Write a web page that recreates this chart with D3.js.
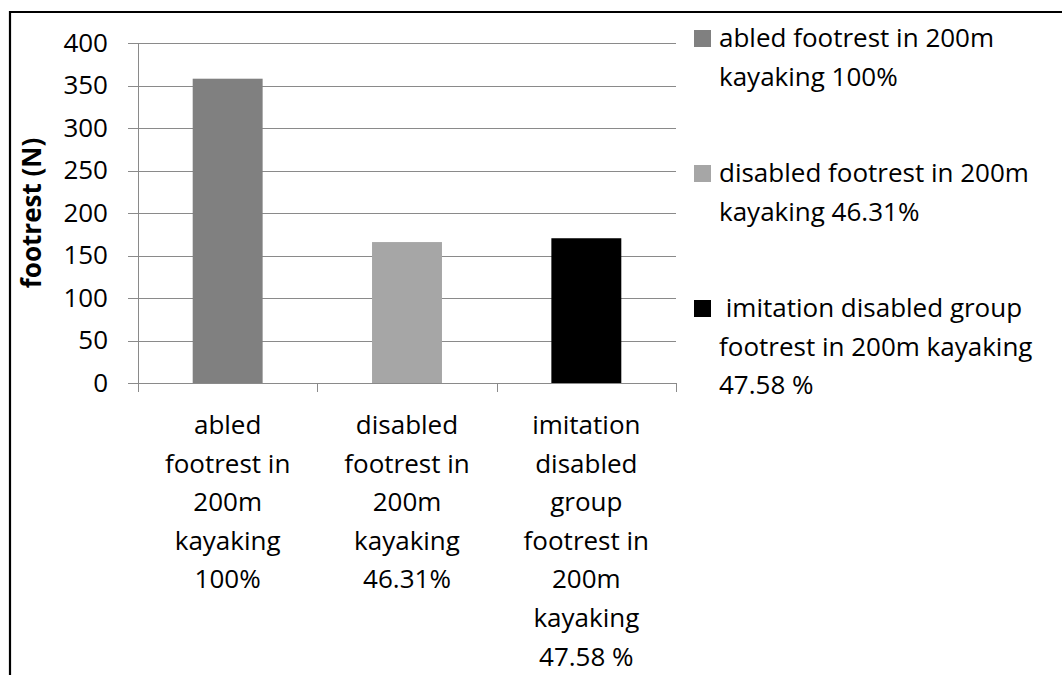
<!DOCTYPE html>
<html>
<head>
<meta charset="utf-8">
<script src="https://cdn.jsdelivr.net/npm/d3@7"></script>
<style>
  body { margin: 0; background: #fff; }
  text { font-family: "Open Sans", Lato, sans-serif; fill: #000; }
</style>
</head>
<body>
<svg id="chart" width="1062" height="675"></svg>
<script>
// chart data
const categories = [
  "abled\nfootrest in\n200m\nkayaking\n100%",
  "disabled\nfootrest in\n200m\nkayaking\n46.31%",
  "imitation\ndisabled\ngroup\nfootrest in\n200m\nkayaking\n47.58 %"
];
const footrestValues = [358, 165.8, 170.3];
const barColors = ["#808080", "#a6a6a6", "#000000"];
const legendLabels = [
  "abled footrest in 200m\nkayaking 100%",
  "disabled footrest in 200m\nkayaking 46.31%",
  " imitation disabled group\nfootrest in 200m kayaking\n47.58 %"
];
const yTicks = [0, 50, 100, 150, 200, 250, 300, 350, 400];
const yTitle = "footrest (N)";

const svg = d3.select("#chart");
const margin = { top: 43, left: 138, right: 676, bottom: 383 };
const gridColor = "#8a8a8a";
const fontSize = 26;
const lineHeight = 38.6;

// frame around the picture (top and left only)
svg.append("path")
  .attr("d", "M10,675 L10,12 L1062,12")
  .attr("fill", "none")
  .attr("stroke", "#000")
  .attr("stroke-width", 2.2);

const x = d3.scaleBand()
  .domain(categories)
  .range([margin.left, margin.right])
  .padding(0);

const y = d3.scaleLinear()
  .domain([0, 400])
  .range([margin.bottom, margin.top]);

// gridlines + tick labels
const yAxis = svg.append("g")
  .attr("transform", `translate(${margin.left - 10},0)`)
  .call(d3.axisLeft(y)
    .tickValues(yTicks)
    .tickSize(-(margin.right - margin.left + 10))
    .tickPadding(20));
yAxis.select(".domain").remove();
yAxis.selectAll("line")
  .attr("stroke", gridColor)
  .attr("shape-rendering", "crispEdges");
yAxis.selectAll("text")
  .attr("font-family", "'Open Sans', Lato, sans-serif")
  .style("font-size", fontSize + "px")
  .attr("fill", "#000");

// y axis line
svg.append("line")
  .attr("x1", margin.left).attr("x2", margin.left)
  .attr("y1", y(400)).attr("y2", y(0))
  .attr("stroke", gridColor)
  .attr("shape-rendering", "crispEdges");

// category ticks at band edges
const edges = [margin.left].concat(categories.map(c => x(c) + x.bandwidth()));
svg.selectAll(".xtick")
  .data(edges)
  .join("line")
  .attr("class", "xtick")
  .attr("x1", d => Math.round(d)).attr("x2", d => Math.round(d))
  .attr("y1", y(0)).attr("y2", y(0) + 9)
  .attr("stroke", gridColor)
  .attr("shape-rendering", "crispEdges");

// bars
const barW = x.bandwidth() * 0.39;
svg.selectAll(".bar")
  .data(footrestValues)
  .join("rect")
  .attr("class", "bar")
  .attr("x", (d, i) => x(categories[i]) + (x.bandwidth() - barW) / 2)
  .attr("y", d => y(d))
  .attr("width", barW)
  .attr("height", d => y(0) - y(d))
  .attr("fill", (d, i) => barColors[i]);

// category labels
svg.selectAll(".cat-label")
  .data(categories)
  .join("text")
  .attr("class", "cat-label")
  .attr("text-anchor", "middle")
  .style("font-size", fontSize + "px")
  .each(function(d) {
    const t = d3.select(this);
    d.split("\n").forEach((line, i) => {
      t.append("tspan")
        .attr("x", x(d) + x.bandwidth() / 2)
        .attr("y", 434 + i * lineHeight)
        .text(line);
    });
  });

// y axis title
svg.append("text")
  .attr("transform", `translate(41,${(y(0) + y(400)) / 2}) rotate(-90)`)
  .attr("text-anchor", "middle")
  .style("font-size", fontSize + "px")
  .style("font-weight", "bold")
  .text(yTitle);

// legend
const legend = svg.append("g").attr("transform", "translate(694,0)");
legendLabels.forEach((label, i) => {
  const top = 47 + i * 135;
  legend.append("rect")
    .attr("x", 0)
    .attr("y", top - 17)
    .attr("width", 17)
    .attr("height", 17)
    .attr("fill", barColors[i]);
  const t = legend.append("text")
    .style("font-size", fontSize + "px")
    .style("white-space", "pre");
  label.split("\n").forEach((line, j) => {
    t.append("tspan")
      .attr("x", 25)
      .attr("y", top + j * lineHeight)
      .text(line);
  });
});
</script>
</body>
</html>
